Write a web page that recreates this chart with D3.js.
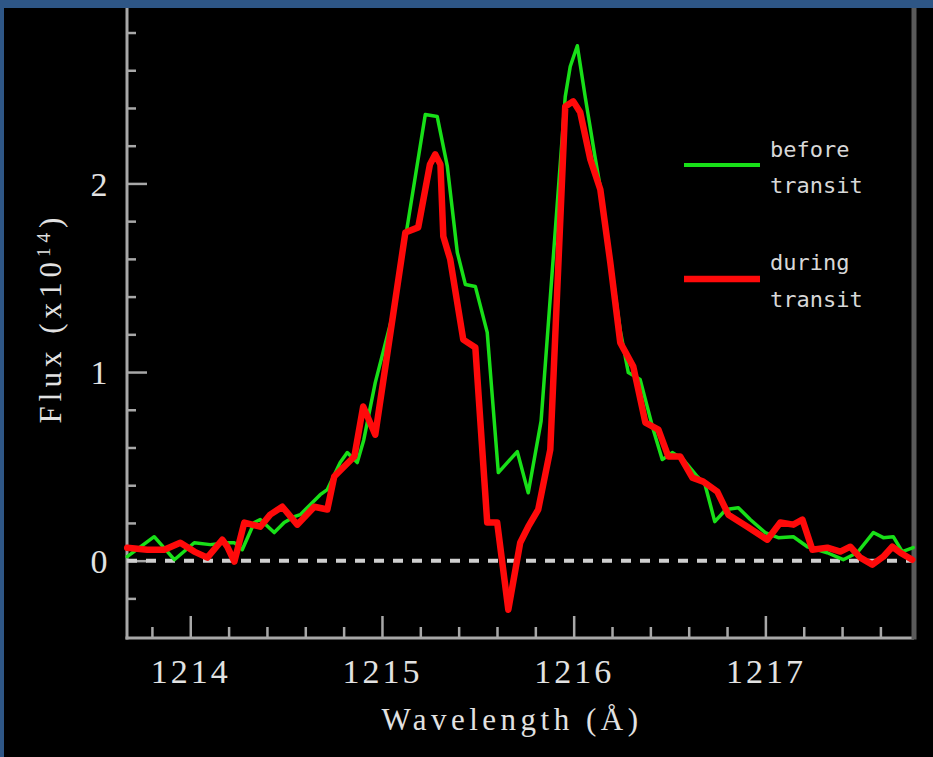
<!DOCTYPE html>
<html>
<head>
<meta charset="utf-8">
<script src="https://cdn.jsdelivr.net/npm/d3@7"></script>
<style>
  html, body { margin: 0; padding: 0; background: #2e5686; }
  svg { display: block; }
</style>
</head>
<body>
<svg id="chart" width="933" height="757"></svg>
<script>
// Lyman-alpha profile, flux in units of 1e-14
const beforeWave = [1213.671, 1213.812, 1213.917, 1214.021, 1214.104, 1214.193, 1214.230, 1214.271, 1214.334, 1214.365,
  1214.438, 1214.490, 1214.543, 1214.574, 1214.678, 1214.715, 1214.782, 1214.819, 1214.871, 1214.905, 1214.965,
  1215.050, 1215.132, 1215.226, 1215.288, 1215.341, 1215.393, 1215.435, 1215.487, 1215.549, 1215.607, 1215.706,
  1215.763, 1215.830, 1215.956, 1215.982, 1216.019, 1216.060, 1216.113, 1216.139, 1216.191, 1216.243, 1216.285,
  1216.347, 1216.415, 1216.462, 1216.514, 1216.572, 1216.645, 1216.684, 1216.736, 1216.794, 1216.859, 1216.921,
  1216.999, 1217.067, 1217.146, 1217.219, 1217.323, 1217.406, 1217.479, 1217.563, 1217.615, 1217.667, 1217.714,
  1217.771];
const beforeFlux = [0.021, 0.127, 0.005, 0.095, 0.085, 0.095, 0.095, 0.058, 0.202, 0.218,
  0.149, 0.202, 0.233, 0.244, 0.350, 0.377, 0.520, 0.573, 0.520, 0.640, 0.944,
  1.280, 1.772, 2.365, 2.355, 2.090, 1.634, 1.464, 1.454, 1.210, 0.467, 0.578,
  0.360, 0.740, 2.460, 2.620, 2.730, 2.460, 2.130, 1.980, 1.600, 1.220, 0.997,
  0.960, 0.695, 0.536, 0.573, 0.536, 0.446, 0.408, 0.207, 0.271, 0.281, 0.218,
  0.149, 0.122, 0.127, 0.074, 0.042, 0.005, 0.042, 0.149, 0.122, 0.127, 0.048,
  0.069];

const duringWave = [1213.671, 1213.776, 1213.864, 1213.948, 1214.021, 1214.089, 1214.167, 1214.193, 1214.230, 1214.282,
  1214.365, 1214.417, 1214.480, 1214.558, 1214.647, 1214.715, 1214.751, 1214.803, 1214.856, 1214.902, 1214.965,
  1215.122, 1215.189, 1215.250, 1215.278, 1215.305, 1215.320, 1215.356, 1215.424, 1215.487, 1215.549, 1215.601,
  1215.659, 1215.721, 1215.763, 1215.815, 1215.878, 1215.956, 1215.998, 1216.034, 1216.087, 1216.139, 1216.191,
  1216.243, 1216.311, 1216.374, 1216.442, 1216.494, 1216.556, 1216.619, 1216.676, 1216.749, 1216.807, 1216.906,
  1217.010, 1217.078, 1217.146, 1217.193, 1217.245, 1217.323, 1217.391, 1217.443, 1217.495, 1217.558, 1217.615,
  1217.662, 1217.704, 1217.766];
const duringFlux = [0.069, 0.058, 0.058, 0.095, 0.048, 0.016, 0.111, 0.074, -0.005, 0.202,
  0.180, 0.244, 0.286, 0.191, 0.286, 0.271, 0.446, 0.499, 0.552, 0.817, 0.668,
  1.740, 1.767, 2.100, 2.154, 2.100, 1.719, 1.597, 1.172, 1.130, 0.202, 0.202,
  -0.260, 0.095, 0.180, 0.271, 0.589, 2.408, 2.435, 2.377, 2.127, 1.968, 1.581,
  1.156, 1.029, 0.732, 0.695, 0.552, 0.552, 0.440, 0.419, 0.366, 0.244, 0.180,
  0.111, 0.202, 0.191, 0.218, 0.058, 0.069, 0.048, 0.074, 0.016, -0.021, 0.021,
  0.074, 0.042, 0.005];

const xMajorTicks = [1214, 1215, 1216, 1217];
const xMinorTicks = [1213.8, 1214.2, 1214.4, 1214.6, 1214.8, 1215.2, 1215.4, 1215.6, 1215.8,
  1216.2, 1216.4, 1216.6, 1216.8, 1217.2, 1217.4, 1217.6];
const yMajorTicks = [0, 1, 2];
const yMinorTicks = [-0.2, 0.2, 0.4, 0.6, 0.8, 1.2, 1.4, 1.6, 1.8, 2.2, 2.4, 2.6, 2.8];

const seriesNames = ["before", "during"];
const seriesColors = ["#18e018", "#ff0a0a"];
const seriesWidths = [3.5, 6.5];

const svg = d3.select("#chart");

// black panel inside the blue frame
svg.append("rect").attr("x", 4).attr("y", 8).attr("width", 929).attr("height", 749).attr("fill", "#000");

const x = d3.scaleLinear().domain([1213.67, 1217.77]).range([127, 913]);
const y = d3.scaleLinear().domain([-0.41, 2.93]).range([638, 8]);

const axisColor = "#a8a8a8";
const labelFont = "'Liberation Serif', 'DejaVu Serif', serif";

function styleAxis(g) {
  g.selectAll("path.domain").remove();
  g.selectAll("line").attr("stroke", axisColor).attr("stroke-width", 2.5);
  g.selectAll("text").attr("fill", "#e2e2e2").style("font-family", labelFont);
}

// bottom axis: major ticks with labels, minor ticks without
const gxMinor = svg.append("g").attr("transform", "translate(0,638)")
  .call(d3.axisBottom(x).tickValues(xMinorTicks).tickSize(-11).tickSizeOuter(0).tickFormat(""));
styleAxis(gxMinor);
const gxMajor = svg.append("g").attr("transform", "translate(0,638)")
  .call(d3.axisBottom(x).tickValues(xMajorTicks).tickSize(-22).tickSizeOuter(0).tickFormat(d3.format("d")));
styleAxis(gxMajor);
gxMajor.selectAll("text").attr("y", 45).attr("dy", 0)
  .style("font-size", "34px").style("letter-spacing", "3px");

// left axis
const gyMinor = svg.append("g").attr("transform", "translate(127,0)")
  .call(d3.axisLeft(y).tickValues(yMinorTicks).tickSize(-9).tickSizeOuter(0).tickFormat(""));
styleAxis(gyMinor);
const gyMajor = svg.append("g").attr("transform", "translate(127,0)")
  .call(d3.axisLeft(y).tickValues(yMajorTicks).tickSize(-20).tickSizeOuter(0).tickFormat(d3.format("d")));
styleAxis(gyMajor);
gyMajor.selectAll("text").attr("x", -28).attr("dy", "0.35em").attr("text-anchor", "middle")
  .style("font-size", "34px");

// frame lines
svg.append("line").attr("x1", 127).attr("x2", 127).attr("y1", 8).attr("y2", 639.5)
  .attr("stroke", axisColor).attr("stroke-width", 3);
svg.append("line").attr("x1", 125.5).attr("x2", 914).attr("y1", 638).attr("y2", 638)
  .attr("stroke", axisColor).attr("stroke-width", 3);
svg.append("line").attr("x1", 914).attr("x2", 914).attr("y1", 8).attr("y2", 639.5)
  .attr("stroke", "#5a5a5a").attr("stroke-width", 5);

// zero level
svg.append("line").attr("x1", x(1213.67)).attr("x2", x(1217.77)).attr("y1", y(0)).attr("y2", y(0))
  .attr("stroke", "#cfcfcf").attr("stroke-width", 4).attr("stroke-dasharray", "10,9");

// spectra
const series = [
  { name: seriesNames[0], wave: beforeWave, flux: beforeFlux },
  { name: seriesNames[1], wave: duringWave, flux: duringFlux }
];
const line = d3.line().x(d => x(d[0])).y(d => y(d[1]));
series.forEach((s, i) => {
  svg.append("path")
    .datum(d3.zip(s.wave, s.flux))
    .attr("d", line)
    .attr("fill", "none")
    .attr("stroke", seriesColors[i])
    .attr("stroke-width", seriesWidths[i])
    .attr("stroke-linejoin", "round")
    .attr("stroke-linecap", "round");
});

// axis titles
svg.append("text").attr("x", 512).attr("y", 730).attr("text-anchor", "middle")
  .attr("fill", "#e2e2e2").style("font-family", labelFont).style("font-size", "31px")
  .style("letter-spacing", "4.5px").text("Wavelength (Å)");

const yTitle = svg.append("text").attr("transform", "translate(61,318) rotate(-90)")
  .attr("text-anchor", "middle").attr("fill", "#e2e2e2")
  .style("font-family", labelFont).style("font-size", "31px").style("letter-spacing", "5px");
yTitle.append("tspan").text("Flux (x10");
yTitle.append("tspan").attr("dy", -11).style("font-size", "19px").text("14");
yTitle.append("tspan").attr("dy", 11).text(")");

// legend
const legendItems = [
  { lines: ["before", "transit"], ly: 165, ty: [157, 193] },
  { lines: ["during", "transit"], ly: 279, ty: [270, 307] }
];
legendItems.forEach((item, i) => {
  svg.append("line").attr("x1", 684).attr("x2", 760).attr("y1", item.ly).attr("y2", item.ly)
    .attr("stroke", seriesColors[i]).attr("stroke-width", i === 0 ? 4 : 6.5);
  item.lines.forEach((t, j) => {
    svg.append("text").attr("x", 770).attr("y", item.ty[j])
      .attr("fill", "#d8d8d8").style("font-family", "'DejaVu Sans Mono', monospace")
      .style("font-size", "22px").text(t);
  });
});
</script>
</body>
</html>
